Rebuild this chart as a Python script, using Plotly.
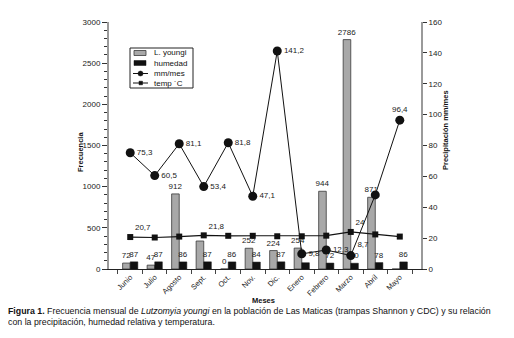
import plotly.graph_objects as go

meses = ["Junio", "Julio", "Agosto", "Sept.", "Oct.", "Nov.", "Dic.", "Enero", "Febrero", "Marzo", "Abril", "Mayo"]
l_youngi = [72, 47, 912, 340, 0, 252, 224, 254, 944, 2786, 871, 0]
l_youngi_lbl = ["72", "47", "912", "", "0", "252", "224", "254", "944", "2786", "871", ""]
humedad = [87, 87, 86, 87, 86, 84, 87, 76, 72, 70, 78, 86]
humedad_lbl = ["87", "87", "86", "87", "86", "84", "87", "", "72", "70", "78", "86"]
mm_mes = [75.3, 60.5, 81.1, 53.4, 81.8, 47.1, 141.2, 9.8, 12.3, 8.7, 48.0, 96.4]
mm_lbl = ["75,3", "60,5", "81,1", "53,4", "81,8", "47,1", "141,2", "9,8", "12,3", "8,7", "", "96,4"]
temp = [20.7, 20.4, 21.0, 21.8, 21.5, 21.5, 21.2, 21.2, 21.6, 24.0, 22.4, 21.0]
temp_lbl = ["20,7", "", "", "21,8", "", "", "", "", "", "24", "", ""]
legend_names = ["L. youngi", "humedad", "mm/mes", "temp ´C"]

FONT = "Liberation Sans, Arial, sans-serif"
OFF = 8  # page body margin
W, H = 514 - OFF, 338 - OFF
L, T = 109 - OFF, 22 - OFF
R = W - (421 - OFF)
B = H - (269 - OFF)
PW, PH = W - L - R, H - T - B


def px(x):
    return (x - OFF - L) / PW


def py(y):
    return (H - B - (y - OFF)) / PH


fig = go.Figure()

fig.add_trace(go.Bar(
    x=meses, y=l_youngi, name=legend_names[0], yaxis="y",
    marker=dict(color="#a8a8a8", line=dict(color="#3a3a3a", width=0.8)),
    text=l_youngi_lbl, textposition="outside", constraintext="none", cliponaxis=False,
    textfont=dict(size=8, color="#222", family=FONT),
))
fig.add_trace(go.Bar(
    x=meses, y=humedad, name=legend_names[1], yaxis="y",
    marker=dict(color="#111111", line=dict(color="#111111", width=0.5)),
    text=humedad_lbl, textposition="outside", constraintext="none", cliponaxis=False,
    textfont=dict(size=8, color="#222", family=FONT),
))
mm_pos = ["middle right"] * 12
mm_pos[9] = "top right"
mm_pos[11] = "top center"
fig.add_trace(go.Scatter(
    x=meses, y=mm_mes, name=legend_names[2], yaxis="y2", mode="lines+markers+text",
    line=dict(color="#111", width=1),
    marker=dict(symbol="circle", size=9, color="#111"),
    text=mm_lbl, textposition=mm_pos, cliponaxis=False,
    textfont=dict(size=8, color="#222", family=FONT),
))
t_pos = ["top center"] * 12
t_pos[0] = "top right"
t_pos[3] = "top right"
t_pos[9] = "top right"
fig.add_trace(go.Scatter(
    x=meses, y=temp, name=legend_names[3], yaxis="y2", mode="lines+markers+text",
    line=dict(color="#111", width=1.2),
    marker=dict(symbol="square", size=6, color="#111"),
    text=temp_lbl, textposition=t_pos, cliponaxis=False,
    textfont=dict(size=8, color="#222", family=FONT),
))

fig.update_layout(
    width=W, height=H,
    margin=dict(l=L, r=R, t=T, b=B, autoexpand=False),
    paper_bgcolor="white", plot_bgcolor="white",
    font=dict(family=FONT, size=8, color="#222"),
    barmode="group", bargap=0.38, bargroupgap=0,
    showlegend=False,
    xaxis=dict(
        automargin=False,
        showline=True, linecolor="#222", linewidth=1,
        ticks="outside", ticklen=4, tickcolor="#444", tickson="boundaries",
        tickangle=-45, tickfont=dict(size=7.5),
        showgrid=False, zeroline=False,
    ),
    yaxis=dict(
        automargin=False,
        range=[0, 3000], tickvals=[0, 500, 1000, 1500, 2000, 2500, 3000],
        showline=True, linecolor="#9a9a9a", linewidth=2,
        ticks="outside", ticklen=5, tickcolor="#333",
        minor=dict(dtick=100, ticks="outside", ticklen=3, tickcolor="#333"),
        tickfont=dict(size=8),
        showgrid=False, zeroline=False,
    ),
    yaxis2=dict(
        automargin=False,
        range=[0, 160], dtick=20, overlaying="y", side="right",
        showline=True, linecolor="#9a9a9a", linewidth=2,
        ticks="outside", ticklen=4, tickcolor="#333",
        tickfont=dict(size=8),
        showgrid=False, zeroline=False,
    ),
)

# axis titles
fig.add_annotation(xref="paper", yref="paper", x=px(80), y=py(152), text="<b>Frecuencia</b>",
                   xanchor="center", yanchor="middle",
                   textangle=-90, showarrow=False, font=dict(size=7.5, family=FONT, color="#111"))
fig.add_annotation(xref="paper", yref="paper", x=px(445), y=py(130), text="<b>Precipitación mm/mes</b>",
                   xanchor="center", yanchor="middle",
                   textangle=-90, showarrow=False, font=dict(size=7.5, family=FONT, color="#111"))
fig.add_annotation(xref="paper", yref="paper", x=px(263), y=py(300), text="<b>Meses</b>",
                   xanchor="center", yanchor="middle",
                   showarrow=False, font=dict(size=7.5, family=FONT, color="#111"))

# legend box (custom, compact like the original)
shapes = [dict(type="rect", xref="paper", yref="paper", x0=px(130), x1=px(193), y0=py(88), y1=py(48),
               line=dict(color="#222", width=1), fillcolor="white", layer="above")]
rows = [53, 63, 73.5, 83]
shapes.append(dict(type="rect", xref="paper", yref="paper", x0=px(134), x1=px(146), y0=py(rows[0] + 2.5), y1=py(rows[0] - 2.5),
                   line=dict(color="#3a3a3a", width=0.8), fillcolor="#a8a8a8", layer="above"))
shapes.append(dict(type="rect", xref="paper", yref="paper", x0=px(134), x1=px(146), y0=py(rows[1] + 2.5), y1=py(rows[1] - 2.5),
                   line=dict(color="#111", width=0.5), fillcolor="#111", layer="above"))
for r, sym in ((rows[2], "circle"), (rows[3], "rect")):
    shapes.append(dict(type="line", xref="paper", yref="paper", x0=px(133), x1=px(148), y0=py(r), y1=py(r),
                       line=dict(color="#111", width=1), layer="above"))
    if sym == "circle":
        shapes.append(dict(type="circle", xref="paper", yref="paper", x0=px(138), x1=px(143), y0=py(r + 2.5), y1=py(r - 2.5),
                           line=dict(color="#111", width=0.5), fillcolor="#111", layer="above"))
    else:
        shapes.append(dict(type="rect", xref="paper", yref="paper", x0=px(139), x1=px(142.5), y0=py(r + 1.8), y1=py(r - 1.8),
                           line=dict(color="#111", width=0.5), fillcolor="#111", layer="above"))
fig.update_layout(shapes=shapes)
for r, name in zip(rows, legend_names):
    fig.add_annotation(xref="paper", yref="paper", x=px(152), y=py(r), text=name, xanchor="left", yanchor="middle",
                       showarrow=False, font=dict(size=8, family=FONT, color="#111"))

fig.add_annotation(
    xref="paper", yref="paper", x=px(6), y=py(304), xanchor="left", yanchor="top",
    align="left", showarrow=False,
    text="<b>Figura 1.</b> Frecuencia mensual de <i>Lutzomyia youngi</i> en la población de Las Maticas (trampas Shannon y CDC) y su relación<br>con la precipitación, humedad relativa y temperatura.",
    font=dict(size=8.8, family=FONT, color="#111"),
)

fig.write_html("out.html")
